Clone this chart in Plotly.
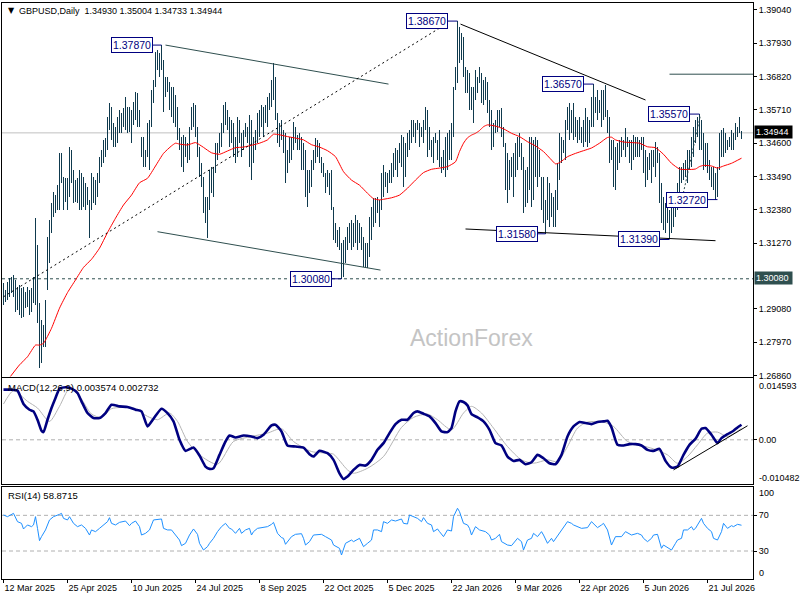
import plotly.graph_objects as go
from plotly.subplots import make_subplots

# ---- daily bars (12 Mar 2025 -> end of Jul 2026) ----
highs = [
    1.2993, 1.2971, 1.2998, 1.3010, 1.3015, 1.3021, 1.3004, 1.2982, 1.2987, 1.2976,
    1.2982, 1.2965, 1.2982, 1.2971, 1.2976, 1.3015, 1.3210, 1.3121, 1.2926, 1.2871,
    1.2854, 1.2937, 1.3148, 1.3204, 1.3260, 1.3298, 1.3287, 1.3321, 1.3426, 1.3426,
    1.3348, 1.3343, 1.3343, 1.3448, 1.3437, 1.3371, 1.3337, 1.3343, 1.3371, 1.3360,
    1.3348, 1.3326, 1.3315, 1.3271, 1.3360, 1.3348, 1.3337, 1.3360, 1.3415, 1.3437,
    1.3471, 1.3476, 1.3548, 1.3593, 1.3582, 1.3526, 1.3515, 1.3548, 1.3571, 1.3560,
    1.3576, 1.3615, 1.3582, 1.3582, 1.3571, 1.3598, 1.3632, 1.3626, 1.3571, 1.3482,
    1.3482, 1.3437, 1.3526, 1.3537, 1.3637, 1.3671, 1.3765, 1.3771, 1.3760, 1.3787,
    1.3737, 1.3682, 1.3682, 1.3665, 1.3648, 1.3648, 1.3621, 1.3582, 1.3510, 1.3482,
    1.3487, 1.3482, 1.3460, 1.3515, 1.3582, 1.3593, 1.3587, 1.3515, 1.3448, 1.3393,
    1.3348, 1.3282, 1.3282, 1.3371, 1.3382, 1.3382, 1.3460, 1.3460, 1.3493, 1.3526,
    1.3587, 1.3598, 1.3571, 1.3548, 1.3537, 1.3526, 1.3482, 1.3548, 1.3537, 1.3493,
    1.3504, 1.3526, 1.3515, 1.3554, 1.3537, 1.3482, 1.3504, 1.3560, 1.3571, 1.3587,
    1.3582, 1.3587, 1.3615, 1.3626, 1.3671, 1.3726, 1.3682, 1.3560, 1.3526, 1.3537,
    1.3504, 1.3493, 1.3437, 1.3482, 1.3482, 1.3532, 1.3515, 1.3487, 1.3493, 1.3482,
    1.3460, 1.3437, 1.3371, 1.3371, 1.3404, 1.3437, 1.3476, 1.3471, 1.3460, 1.3415,
    1.3393, 1.3360, 1.3371, 1.3360, 1.3371, 1.3248, 1.3193, 1.3171, 1.3182, 1.3126,
    1.3137, 1.3148, 1.3182, 1.3193, 1.3204, 1.3193, 1.3221, 1.3204, 1.3193, 1.3182,
    1.3148, 1.3126, 1.3126, 1.3215, 1.3248, 1.3276, 1.3276, 1.3282, 1.3271, 1.3360,
    1.3387, 1.3365, 1.3360, 1.3371, 1.3393, 1.3426, 1.3443, 1.3437, 1.3460, 1.3487,
    1.3482, 1.3460, 1.3493, 1.3504, 1.3537, 1.3537, 1.3526, 1.3537, 1.3526, 1.3515,
    1.3537, 1.3582, 1.3571, 1.3515, 1.3471, 1.3482, 1.3493, 1.3471, 1.3504, 1.3415,
    1.3437, 1.3482, 1.3493, 1.3504, 1.3526, 1.3648, 1.3715, 1.3867, 1.3848, 1.3826,
    1.3815, 1.3715, 1.3704, 1.3693, 1.3648, 1.3648, 1.3704, 1.3682, 1.3715, 1.3693,
    1.3671, 1.3682, 1.3665, 1.3604, 1.3571, 1.3526, 1.3537, 1.3571, 1.3571, 1.3576,
    1.3515, 1.3460, 1.3426, 1.3404, 1.3415, 1.3426, 1.3460, 1.3482, 1.3493, 1.3460,
    1.3415, 1.3371, 1.3382, 1.3482, 1.3482, 1.3471, 1.3482, 1.3471, 1.3437, 1.3348,
    1.3348, 1.3271, 1.3348, 1.3326, 1.3293, 1.3282, 1.3304, 1.3393, 1.3493, 1.3482,
    1.3471, 1.3537, 1.3582, 1.3593, 1.3571, 1.3593, 1.3548, 1.3537, 1.3548, 1.3515,
    1.3537, 1.3576, 1.3548, 1.3537, 1.3615, 1.3657, 1.3615, 1.3637, 1.3604, 1.3637,
    1.3637, 1.3654, 1.3571, 1.3548, 1.3471, 1.3471, 1.3448, 1.3460, 1.3471, 1.3482,
    1.3471, 1.3510, 1.3482, 1.3471, 1.3471, 1.3487, 1.3482, 1.3482, 1.3471, 1.3482,
    1.3482, 1.3437, 1.3415, 1.3426, 1.3437, 1.3437, 1.3465, 1.3448, 1.3426, 1.3326,
    1.3282, 1.3260, 1.3260, 1.3237, 1.3248, 1.3260, 1.3282, 1.3326, 1.3382, 1.3382,
    1.3393, 1.3404, 1.3437, 1.3437, 1.3482, 1.3515, 1.3537, 1.3548, 1.3557, 1.3537,
    1.3493, 1.3460, 1.3460, 1.3404, 1.3382, 1.3382, 1.3360, 1.3382, 1.3493, 1.3504,
    1.3510, 1.3493, 1.3471, 1.3482, 1.3504, 1.3493, 1.3526, 1.3515, 1.3548, 1.3500,
]
lows = [
    1.2921, 1.2932, 1.2937, 1.2948, 1.2960, 1.2948, 1.2898, 1.2904, 1.2887, 1.2876,
    1.2882, 1.2910, 1.2915, 1.2887, 1.2898, 1.2926, 1.2921, 1.2860, 1.2710, 1.2726,
    1.2782, 1.2782, 1.2971, 1.3060, 1.3160, 1.3215, 1.3226, 1.3237, 1.3237, 1.3326,
    1.3237, 1.3265, 1.3237, 1.3282, 1.3326, 1.3260, 1.3265, 1.3260, 1.3237, 1.3237,
    1.3248, 1.3237, 1.3254, 1.3143, 1.3237, 1.3260, 1.3254, 1.3282, 1.3326, 1.3382,
    1.3393, 1.3415, 1.3437, 1.3504, 1.3471, 1.3448, 1.3448, 1.3460, 1.3493, 1.3493,
    1.3515, 1.3504, 1.3493, 1.3498, 1.3460, 1.3521, 1.3537, 1.3515, 1.3515, 1.3415,
    1.3382, 1.3382, 1.3415, 1.3371, 1.3515, 1.3593, 1.3648, 1.3704, 1.3682, 1.3704,
    1.3565, 1.3615, 1.3632, 1.3571, 1.3548, 1.3526, 1.3515, 1.3471, 1.3437, 1.3382,
    1.3365, 1.3415, 1.3393, 1.3404, 1.3504, 1.3515, 1.3482, 1.3415, 1.3348, 1.3315,
    1.3226, 1.3193, 1.3143, 1.3237, 1.3293, 1.3282, 1.3360, 1.3404, 1.3426, 1.3448,
    1.3493, 1.3521, 1.3504, 1.3448, 1.3460, 1.3415, 1.3393, 1.3415, 1.3460, 1.3415,
    1.3437, 1.3482, 1.3460, 1.3382, 1.3337, 1.3393, 1.3437, 1.3460, 1.3482, 1.3515,
    1.3482, 1.3526, 1.3515, 1.3571, 1.3582, 1.3604, 1.3537, 1.3460, 1.3448, 1.3471,
    1.3426, 1.3326, 1.3360, 1.3393, 1.3404, 1.3437, 1.3460, 1.3437, 1.3437, 1.3371,
    1.3371, 1.3282, 1.3248, 1.3293, 1.3315, 1.3371, 1.3393, 1.3415, 1.3393, 1.3360,
    1.3348, 1.3293, 1.3315, 1.3287, 1.3237, 1.3137, 1.3126, 1.3115, 1.3104, 1.3008,
    1.3015, 1.3060, 1.3104, 1.3126, 1.3104, 1.3115, 1.3126, 1.3104, 1.3126, 1.3104,
    1.3048, 1.3048, 1.3043, 1.3082, 1.3137, 1.3182, 1.3193, 1.3226, 1.3182, 1.3237,
    1.3282, 1.3315, 1.3293, 1.3326, 1.3326, 1.3348, 1.3371, 1.3348, 1.3393, 1.3382,
    1.3315, 1.3348, 1.3415, 1.3437, 1.3460, 1.3482, 1.3460, 1.3504, 1.3448, 1.3482,
    1.3460, 1.3504, 1.3415, 1.3437, 1.3415, 1.3393, 1.3460, 1.3404, 1.3382, 1.3360,
    1.3371, 1.3348, 1.3371, 1.3404, 1.3404, 1.3482, 1.3637, 1.3660, 1.3726, 1.3737,
    1.3682, 1.3626, 1.3626, 1.3571, 1.3571, 1.3526, 1.3604, 1.3626, 1.3660, 1.3593,
    1.3587, 1.3604, 1.3560, 1.3515, 1.3437, 1.3448, 1.3493, 1.3498, 1.3515, 1.3482,
    1.3448, 1.3304, 1.3260, 1.3304, 1.3348, 1.3282, 1.3348, 1.3371, 1.3415, 1.3371,
    1.3226, 1.3248, 1.3260, 1.3304, 1.3248, 1.3271, 1.3348, 1.3315, 1.3348, 1.3237,
    1.3193, 1.3158, 1.3204, 1.3182, 1.3215, 1.3182, 1.3182, 1.3237, 1.3337, 1.3393,
    1.3426, 1.3404, 1.3504, 1.3471, 1.3493, 1.3471, 1.3482, 1.3460, 1.3471, 1.3460,
    1.3448, 1.3465, 1.3448, 1.3460, 1.3515, 1.3515, 1.3560, 1.3537, 1.3560, 1.3515,
    1.3537, 1.3548, 1.3493, 1.3393, 1.3404, 1.3315, 1.3304, 1.3371, 1.3393, 1.3415,
    1.3437, 1.3415, 1.3448, 1.3393, 1.3371, 1.3404, 1.3415, 1.3415, 1.3415, 1.3437,
    1.3360, 1.3315, 1.3337, 1.3371, 1.3326, 1.3382, 1.3348, 1.3393, 1.3260, 1.3193,
    1.3171, 1.3160, 1.3193, 1.3139, 1.3160, 1.3182, 1.3215, 1.3237, 1.3248, 1.3326,
    1.3337, 1.3348, 1.3326, 1.3371, 1.3382, 1.3415, 1.3460, 1.3482, 1.3437, 1.3437,
    1.3371, 1.3382, 1.3360, 1.3337, 1.3315, 1.3304, 1.3272, 1.3282, 1.3371, 1.3415,
    1.3415, 1.3426, 1.3437, 1.3448, 1.3437, 1.3437, 1.3471, 1.3482, 1.3493, 1.3473,
]
bar_index = list(range(len(highs)))

date_ticks = [0, 32, 64, 96, 128, 160, 192, 224, 256, 288, 320, 352]
date_labels = ["12 Mar 2025", "25 Apr 2025", "10 Jun 2025", "24 Jul 2025",
               "8 Sep 2025", "22 Oct 2025", "5 Dec 2025", "22 Jan 2026",
               "9 Mar 2026", "22 Apr 2026", "5 Jun 2026", "21 Jul 2026"]

price_ticks = [1.39040, 1.37930, 1.36820, 1.35710, 1.34600, 1.33490,
               1.32380, 1.31270, 1.29080, 1.27970, 1.26860]

# moving average (red)
ma_index = [0, 4, 8, 12, 16, 18, 20, 24, 28, 32, 36, 40, 44, 48, 52, 56, 60, 64, 68,
            72, 76, 80, 84, 86, 88, 92, 96, 100, 104, 108, 112, 116, 120, 124, 128,
            132, 135, 138, 142, 146, 150, 154, 158, 162, 166, 170, 174, 178, 182, 185,
            188, 190, 194, 198, 202, 206, 210, 214, 218, 222, 226, 228, 230, 232, 234,
            236, 238, 240, 242, 246, 250, 254, 258, 262, 266, 270, 274, 276, 278, 282,
            286, 290, 294, 298, 302, 304, 306, 310, 314, 318, 322, 326, 330, 334, 338,
            342, 346, 348, 350, 354, 357, 360, 364, 369]
ma_values = [1.2653, 1.2687, 1.2721, 1.2748, 1.2787, 1.2787, 1.2793, 1.2843, 1.2910,
             1.2962, 1.3004, 1.3046, 1.3073, 1.3110, 1.3162, 1.3210, 1.3254, 1.3287,
             1.3328, 1.3343, 1.3384, 1.3426, 1.3451, 1.3460, 1.3457, 1.3454, 1.3462,
             1.3446, 1.3428, 1.3423, 1.3434, 1.3445, 1.3447, 1.3453, 1.3460, 1.3471,
             1.3490, 1.3488, 1.3482, 1.3477, 1.3471, 1.3455, 1.3447, 1.3435, 1.3415,
             1.3365, 1.3337, 1.3320, 1.3293, 1.3275, 1.3271, 1.3273, 1.3278, 1.3287,
             1.3310, 1.3337, 1.3362, 1.3373, 1.3377, 1.3382, 1.3398, 1.3432, 1.3460,
             1.3478, 1.3487, 1.3493, 1.3502, 1.3515, 1.3521, 1.3517, 1.3508, 1.3493,
             1.3482, 1.3465, 1.3451, 1.3432, 1.3404, 1.3391, 1.3395, 1.3415, 1.3426,
             1.3435, 1.3444, 1.3460, 1.3479, 1.3480, 1.3471, 1.3464, 1.3462, 1.3460,
             1.3448, 1.3445, 1.3423, 1.3393, 1.3374, 1.3372, 1.3374, 1.3382, 1.3386,
             1.3384, 1.3377, 1.3384, 1.3393, 1.3410]

# MACD(12,26,9)
macd_index = [0, 4, 7, 10, 13, 15, 17, 19, 20, 22, 24, 26, 28, 31, 34, 37, 39, 42, 45,
              48, 51, 54, 58, 62, 66, 69, 72, 75, 79, 82, 85, 88, 91, 95, 98, 101, 103,
              105, 108, 111, 113, 116, 120, 124, 127, 130, 134, 136, 139, 142, 146, 150,
              153, 155, 158, 162, 165, 168, 170, 172, 175, 178, 181, 184, 187, 190, 193,
              196, 199, 202, 205, 207, 210, 213, 216, 219, 222, 224, 226, 228, 230, 232,
              234, 237, 240, 243, 246, 249, 252, 255, 258, 261, 264, 267, 270, 273, 276,
              279, 282, 285, 288, 291, 294, 297, 300, 302, 304, 307, 310, 313, 316, 319,
              322, 325, 328, 331, 334, 337, 340, 343, 346, 349, 351, 354, 357, 359, 362,
              365, 367, 369]
macd_main = [0.01190, 0.01190, 0.01167, 0.00849, 0.00714, 0.00675, 0.00476, 0.00214,
             0.00183, 0.00476, 0.00754, 0.00992, 0.01214, 0.01246, 0.01214, 0.01111,
             0.00913, 0.00635, 0.00516, 0.00516, 0.00635, 0.00833, 0.00794, 0.00778,
             0.00714, 0.00675, 0.00317, 0.00500, 0.00738, 0.00635, 0.00437, 0.00000,
             -0.00262, -0.00183, -0.00373, -0.00635, -0.00690, -0.00675, -0.00357,
             -0.00040, 0.00103, 0.00056, 0.00103, 0.00079, 0.00040, 0.00119, 0.00341,
             0.00357, 0.00198, -0.00135, -0.00159, -0.00183, -0.00341, -0.00397,
             -0.00262, -0.00317, -0.00476, -0.00794, -0.00929, -0.00873, -0.00714,
             -0.00595, -0.00611, -0.00476, -0.00238, -0.00079, 0.00159, 0.00373,
             0.00476, 0.00476, 0.00635, 0.00675, 0.00619, 0.00556, 0.00397, 0.00198,
             0.00183, 0.00278, 0.00675, 0.00913, 0.00897, 0.00817, 0.00611, 0.00532,
             0.00437, 0.00238, -0.00079, -0.00135, -0.00397, -0.00500, -0.00476,
             -0.00579, -0.00532, -0.00357, -0.00437, -0.00556, -0.00579, -0.00357,
             0.00079, 0.00317, 0.00421, 0.00397, 0.00373, 0.00421, 0.00437, 0.00452,
             0.00294, -0.00119, -0.00135, -0.00103, -0.00103, -0.00135, -0.00238,
             -0.00262, -0.00214, -0.00500, -0.00659, -0.00635, -0.00357, -0.00119,
             0.00024, 0.00262, 0.00278, 0.00119, -0.00079, 0.00040, 0.00135, 0.00214,
             0.00294, 0.00357]
signal_index = [0, 5, 12, 17, 23, 28, 33, 38, 44, 49, 54, 65, 72, 77, 83, 87, 92, 98,
                107, 115, 124, 132, 139, 145, 154, 162, 165, 172, 175, 182, 190, 199,
                205, 212, 217, 224, 230, 234, 239, 245, 252, 259, 265, 272, 277, 282,
                287, 292, 300, 305, 312, 319, 325, 332, 337, 342, 347, 352, 357, 362, 369]
macd_signal = [0.00849, 0.01167, 0.00913, 0.00754, 0.00437, 0.00794, 0.01214, 0.01032,
               0.00611, 0.00532, 0.00738, 0.00754, 0.00556, 0.00476, 0.00635, 0.00437,
               -0.00040, -0.00357, -0.00579, -0.00040, 0.00079, 0.00159, 0.00262,
               -0.00040, -0.00278, -0.00317, -0.00341, -0.00714, -0.00794, -0.00675,
               -0.00397, 0.00294, 0.00532, 0.00611, 0.00476, 0.00238, 0.00635, 0.00794,
               0.00635, 0.00278, -0.00159, -0.00476, -0.00556, -0.00476, -0.00516,
               -0.00159, 0.00278, 0.00421, 0.00421, 0.00317, -0.00040, -0.00135,
               -0.00214, -0.00357, -0.00556, -0.00397, -0.00119, 0.00159, 0.00183,
               0.00079, 0.00273]

# RSI(14)
rsi_index = [0, 2, 5, 7, 9, 10, 12, 14, 15, 16, 17, 18, 19, 21, 23, 25, 28, 29, 30, 32,
             33, 35, 37, 39, 41, 43, 44, 46, 48, 52, 53, 54, 56, 58, 61, 63, 64, 66, 68,
             69, 71, 73, 75, 79, 80, 82, 84, 86, 88, 89, 91, 93, 95, 97, 98, 100, 102,
             103, 105, 107, 109, 111, 113, 114, 116, 118, 119, 121, 123, 124, 125, 127,
             130, 132, 134, 135, 137, 139, 140, 141, 144, 146, 149, 150, 151, 153, 155,
             159, 161, 164, 165, 168, 169, 171, 174, 175, 178, 180, 182, 184, 185, 187,
             189, 190, 192, 194, 196, 199, 200, 202, 203, 205, 207, 209, 210, 212, 214,
             215, 217, 218, 220, 222, 224, 225, 227, 228, 230, 232, 233, 234, 236, 238,
             241, 243, 244, 246, 248, 249, 252, 254, 255, 257, 259, 260, 262, 264, 265,
             267, 269, 270, 272, 274, 275, 279, 282, 284, 285, 289, 292, 294, 297, 299,
             300, 302, 304, 306, 309, 311, 314, 317, 319, 320, 322, 324, 325, 327, 329,
             330, 332, 334, 336, 337, 339, 340, 342, 344, 345, 346, 347, 349, 350, 352,
             354, 355, 357, 359, 360, 362, 364, 365, 367, 369]
rsi_values = [70.4, 68.5, 72.2, 62.9, 61.0, 54.7, 59.2, 57.3, 59.2, 68.5, 55.4, 41.6,
              46.1, 53.6, 64.8, 68.5, 71.1, 72.2, 66.6, 64.8, 68.5, 61.0, 57.3, 59.2,
              55.4, 47.9, 53.6, 51.7, 55.4, 62.9, 67.4, 61.0, 59.2, 62.1, 63.6, 58.4,
              61.0, 63.6, 57.3, 47.9, 49.8, 53.6, 64.8, 65.9, 55.4, 53.6, 53.6, 47.9,
              42.3, 36.0, 38.6, 47.9, 54.7, 48.7, 38.6, 31.1, 34.9, 38.6, 44.2, 51.7,
              57.3, 61.0, 55.4, 54.7, 49.8, 55.4, 49.8, 53.6, 55.4, 47.9, 51.7, 55.4,
              56.2, 57.3, 59.9, 62.1, 49.8, 45.0, 44.2, 37.5, 46.1, 48.7, 49.4, 44.2,
              36.7, 40.5, 47.9, 48.7, 46.1, 42.3, 36.7, 33.0, 25.5, 38.6, 42.3, 40.5,
              44.2, 34.9, 38.6, 42.3, 53.6, 53.6, 51.7, 62.9, 61.0, 64.8, 63.6, 65.9,
              61.0, 60.3, 70.4, 68.5, 66.6, 62.9, 67.4, 61.0, 59.2, 51.7, 54.7, 51.7,
              46.1, 53.6, 52.4, 68.5, 77.9, 74.1, 61.0, 59.2, 55.4, 47.9, 57.3, 53.6,
              51.7, 47.9, 42.3, 44.2, 48.7, 40.5, 36.7, 36.0, 38.6, 44.2, 40.5, 31.1,
              42.3, 44.2, 49.8, 46.1, 51.7, 47.9, 38.6, 44.2, 40.5, 53.6, 62.9, 61.0,
              59.2, 55.4, 56.2, 62.9, 56.2, 59.2, 61.0, 53.6, 36.7, 46.1, 46.1, 51.7,
              47.9, 49.8, 47.9, 44.2, 40.5, 44.2, 47.9, 48.7, 33.0, 36.7, 33.7, 31.1,
              38.6, 42.3, 44.2, 53.6, 53.6, 57.3, 53.6, 55.4, 59.2, 66.6, 61.0, 55.4,
              51.7, 44.2, 42.3, 51.7, 61.0, 55.4, 58.4, 57.3, 59.9, 58.9]

# marked highs / lows: (bar of the extreme, bar where the box ends, price)
price_marks = [(79, 74.5, 1.37870), (227, 222, 1.38670), (295, 290, 1.36570),
               (348, 343, 1.35570), (357, 352, 1.32720), (271, 267, 1.31580),
               (333, 328, 1.31390), (169, 164, 1.30080)]

# drawn objects: (bar0, price0, bar1, price1, colour, dash)
trend_lines = [
    (81, 1.3787, 192.5, 1.3657, "#2F4F4F", "solid"),
    (77, 1.3165, 188.5, 1.3037, "#2F4F4F", "solid"),
    (0, 1.2948, 222.5, 1.3862, "black", "2px,3px"),
    (228.5, 1.3857, 321, 1.3604, "black", "solid"),
    (231, 1.3174, 356, 1.3135, "black", "solid"),
    (339.5, 1.3281, 348.5, 1.3554, "#2F4F4F", "2px,2px"),
]
fe_level = (333, 1.3690)
macd_trend = (335, -0.00714, 372, 0.00333)

last_price = 1.34944
support_level = 1.30080

BAR = "#0F3A4E"
FONT = "Liberation Sans"


def px(x):
    return (x - 2) / 751


def py(y):
    return (579 - y) / 576


fig = make_subplots(rows=3, cols=1, shared_xaxes=True, vertical_spacing=0.01)

fig.add_trace(go.Bar(x=bar_index, base=lows,
                     y=[h - l for h, l in zip(highs, lows)],
                     width=0.5, marker=dict(color=BAR, line=dict(width=0))),
              row=1, col=1)
fig.add_trace(go.Scatter(x=ma_index, y=ma_values, mode="lines",
                         line=dict(color="#FF0000", width=1, shape="spline", smoothing=0.5)),
              row=1, col=1)

fig.add_trace(go.Scatter(x=signal_index, y=macd_signal, mode="lines",
                         line=dict(color="#B4B4B4", width=1, shape="spline", smoothing=0.7)),
              row=2, col=1)
fig.add_trace(go.Scatter(x=macd_index, y=macd_main, mode="lines",
                         line=dict(color="#000080", width=2.6, shape="spline", smoothing=0.5)),
              row=2, col=1)

fig.add_trace(go.Scatter(x=rsi_index, y=rsi_values, mode="lines",
                         line=dict(color="#1E90FF", width=1)),
              row=3, col=1)

# horizontal levels
fig.add_shape(type="line", xref="x domain", yref="y", x0=0, x1=1, y0=last_price, y1=last_price,
              line=dict(color="#C0C0C0", width=1), layer="below")
fig.add_shape(type="line", xref="x domain", yref="y", x0=0, x1=1, y0=support_level,
              y1=support_level, line=dict(color="#2F4F4F", width=1, dash="3px,3px"), layer="below")
fig.add_shape(type="line", xref="x2 domain", yref="y2", x0=0, x1=1, y0=0, y1=0,
              line=dict(color="#B0B0B0", width=1, dash="4px,3px"), layer="below")
for level in (70, 30):
    fig.add_shape(type="line", xref="x3 domain", yref="y3", x0=0, x1=1, y0=level, y1=level,
                  line=dict(color="#B0B0B0", width=1, dash="4px,3px"), layer="below")

for b0, p0, b1, p1, colour, dash in trend_lines:
    fig.add_shape(type="line", xref="x", yref="y", x0=b0, y0=p0, x1=b1, y1=p1,
                  line=dict(color=colour, width=1, dash=dash))

fig.add_shape(type="line", xref="x", yref="y", x0=fe_level[0], x1=375, y0=fe_level[1],
              y1=fe_level[1], line=dict(color="#2F4F4F", width=1))
fig.add_annotation(x=375, y=fe_level[1], xref="x", yref="y", text="FE 100.0",
                   showarrow=False, xanchor="right", yanchor="bottom", xshift=-1,
                   font=dict(family=FONT, size=9.5, color="#4A6A78"))

fig.add_shape(type="line", xref="x2", yref="y2", x0=macd_trend[0], y0=macd_trend[1],
              x1=macd_trend[2], y1=macd_trend[3], line=dict(color="black", width=1))

for bar, box_end, price in price_marks:
    fig.add_shape(type="line", xref="x", yref="y", x0=box_end, x1=bar, y0=price, y1=price,
                  line=dict(color="#000080", width=1))
    fig.add_annotation(x=box_end, y=price, xref="x", yref="y", text=f"{price:.5f}",
                       showarrow=False, xanchor="right", yanchor="middle",
                       font=dict(family=FONT, size=10.5, color="#000080"),
                       bgcolor="white", bordercolor="#000080", borderwidth=1, borderpad=1)

# texts in the panels
fig.add_annotation(x=px(6), y=py(11), xref="paper", yref="paper", text="▼",
                   showarrow=False, xanchor="left", yanchor="middle",
                   font=dict(family="DejaVu Sans", size=8, color="black"))
fig.add_annotation(x=px(17), y=py(11), xref="paper", yref="paper",
                   text="GBPUSD,Daily  1.34930 1.35004 1.34733 1.34944",
                   showarrow=False, xanchor="left", yanchor="middle",
                   font=dict(family=FONT, size=9, color="black"))
fig.add_annotation(x=px(6), y=py(387), xref="paper", yref="paper",
                   text="MACD(12,26,9) 0.003574 0.002732",
                   showarrow=False, xanchor="left", yanchor="middle",
                   font=dict(family=FONT, size=9.5, color="black"))
fig.add_annotation(x=px(6), y=py(495), xref="paper", yref="paper", text="RSI(14) 58.8715",
                   showarrow=False, xanchor="left", yanchor="middle",
                   font=dict(family=FONT, size=9.5, color="black"))
fig.add_annotation(x=px(472), y=py(338), xref="paper", yref="paper", text="ActionForex",
                   showarrow=False, font=dict(family=FONT, size=23, color="#C4C4C4"))

# right-hand scale extras
fig.add_annotation(x=px(754), y=py(132), xref="paper", yref="paper", text=f"{last_price:.5f} ",
                   showarrow=False, xanchor="left", yanchor="middle", bgcolor="black",
                   font=dict(family=FONT, size=9, color="white"), borderpad=1)
fig.add_annotation(x=px(754), y=py(278), xref="paper", yref="paper",
                   text=f"{support_level:.5f} ", showarrow=False, xanchor="left",
                   yanchor="middle", bgcolor="#2F4F4F",
                   font=dict(family=FONT, size=9, color="white"), borderpad=1)
for text, ypix in (("0.014593", 386), ("-0.010482", 478), ("100", 493), ("0", 573)):
    fig.add_annotation(x=px(757), y=py(ypix), xref="paper", yref="paper", text=text,
                       showarrow=False, xanchor="left", yanchor="middle",
                       font=dict(family=FONT, size=9, color="black"))

axis_font = dict(family=FONT, size=9, color="black")
common_x = dict(range=[-0.75, 374.75], showline=True, mirror=True, linecolor="black",
                linewidth=1, showgrid=False, zeroline=False)
fig.update_xaxes(**common_x)
fig.update_xaxes(showticklabels=False, ticks="", row=1, col=1)
fig.update_xaxes(showticklabels=False, ticks="", row=2, col=1)
fig.update_xaxes(tickvals=date_ticks, ticktext=date_labels, ticks="outside", ticklen=3,
                 tickcolor="black", tickfont=axis_font, ticklabelposition="outside right",
                 row=3, col=1)

common_y = dict(side="right", showline=True, mirror=True, linecolor="black", linewidth=1,
                showgrid=False, zeroline=False, ticks="outside", ticklen=3,
                tickcolor="black", tickfont=axis_font)
fig.update_yaxes(**common_y)
fig.update_yaxes(range=[1.26823, 1.39273], tickvals=price_ticks,
                 ticktext=[f"{v:.5f}" for v in price_ticks], domain=[py(376.5), 1],
                 row=1, col=1)
fig.update_yaxes(range=[-0.010482, 0.014593], tickvals=[0], ticktext=["0.00"],
                 domain=[py(484), py(378.3)], row=2, col=1)
fig.update_yaxes(range=[-1.4, 102.1], tickvals=[70, 30], ticktext=["70", "30"],
                 domain=[0, py(486.7)], row=3, col=1)

fig.update_layout(width=800, height=600, margin=dict(l=2, r=47, t=3, b=21),
                  plot_bgcolor="white", paper_bgcolor="white", showlegend=False,
                  bargap=0, font=dict(family=FONT))

# the page body has a default margin; drop it so the figure fills the window
fig.write_html("out.html", config={"displayModeBar": False},
               post_script="document.body.style.margin = '0';")
